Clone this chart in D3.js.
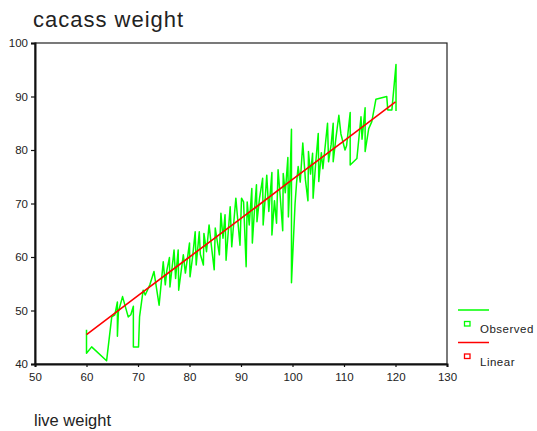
<!DOCTYPE html>
<html>
<head>
<meta charset="utf-8">
<script src="https://cdn.jsdelivr.net/npm/d3@7"></script>
<style>
  body { margin: 0; background: #fff; }
  text { font-family: Arial, "Liberation Sans", sans-serif; fill: #222; }
</style>
</head>
<body>
<svg id="chart"></svg>
<script>
// Observed values (live weight, carcass weight), in plotted order
const obsX = [60, 60, 61, 63.9, 64.9, 65.5, 66, 66, 66.2, 67, 68.1, 68.6, 69.1, 69.1, 70.1, 70.3, 71, 71.4, 72.3, 73.1, 73.3, 74.1, 74.9,
  75.3, 75.6, 76.1, 76.2, 77, 77.3, 77.8, 77.9, 78.4, 78.8, 79.2, 80, 80.1, 80.6, 81.1, 81.3, 81.9, 82.1, 82.7, 82.8, 83.3, 83.8,
  84.2, 84.8, 85, 85.8, 86.1, 86.5, 86.9, 87.1, 87.9, 88.2, 88.6, 89, 89.8, 90.1, 90.5, 91, 91.2, 91.6, 92.1, 92.2, 92.6, 93, 93.1,
  93.6, 94.2, 94.3, 94.7, 95, 95.4, 96, 96, 96.5, 96.9, 97.2, 97.6, 98.1, 98.2, 98.6, 99.1, 99.2, 99.5, 99.8, 99.8, 100.5, 100.8,
  101.1, 101.5, 102, 102.5, 103, 103.1, 103.5, 103.9, 104, 104.5, 105, 105.1, 105.6, 105.9, 106.8, 107, 107.5, 107.9, 107.9, 108.4,
  109, 109.4, 110.2, 110.5, 111.2, 111.2, 112.5, 113.3, 113.5, 114.1, 114.1, 114.8, 115.4, 116.2, 118.3, 118.5, 119.3, 120.1, 120.1];
const obsY = [46.4, 42.0, 43.2, 40.6, 48.8, 49.2, 51.6, 45.2, 49.8, 52.6, 48.8, 49.2, 50.8, 43.2, 43.2, 48.8, 53.8, 52.9, 54.8, 57.3, 56.0, 51.0, 59.1,
  54.8, 57.5, 59.9, 54.4, 61.3, 56.0, 61.3, 53.8, 57.5, 60.4, 57.0, 62.6, 56.3, 60.0, 64.7, 58.5, 64.7, 60.5, 58.5, 64.4, 61.0, 66.0,
  62.5, 57.6, 65.4, 60.4, 68.2, 63.5, 67.9, 59.4, 69.4, 61.9, 66.5, 71.0, 62.2, 71.0, 70.3, 58.2, 70.3, 66.0, 72.8, 62.6, 68.5, 73.5, 66.6,
  71.0, 74.7, 66.0, 71.0, 75.3, 68.5, 75.8, 64.1, 70.5, 66.3, 76.3, 71.5, 64.9, 75.6, 72.0, 78.6, 67.5, 74.0, 83.9, 55.2, 70.0, 74.0,
  76.9, 74.0, 81.3, 74.5, 70.5, 79.7, 75.5, 79.4, 71.0, 77.5, 83.1, 74.1, 79.5, 76.5, 85.0, 77.8, 81.0, 85.0, 77.8, 82.0,
  86.5, 83.0, 80.0, 80.8, 87.0, 77.2, 78.4, 86.2, 82.0, 87.9, 79.7, 84.0, 85.3, 89.5, 90.0, 87.5, 87.5, 96.0, 87.3];

// Linear fit values
const fitX = [60, 70, 80, 90, 100, 110, 120];
const fitY = [45.5, 52.8, 60.0, 67.2, 74.5, 81.7, 89.0];

const xTicks = [50, 60, 70, 80, 90, 100, 110, 120, 130];
const yTicks = [40, 50, 60, 70, 80, 90, 100];
const legendItems = ['Observed', 'Linear'];
const colors = ['#00ff00', '#ff0000'];

const W = 537, H = 431;
const margin = { top: 43, left: 35 };
const width = 412, height = 321;

const svg = d3.select('#chart').attr('width', W).attr('height', H);

svg.append('text')
  .attr('x', 33).attr('y', 27)
  .style('font-size', '22px')
  .style('letter-spacing', '1px')
  .text('cacass weight');

svg.append('text')
  .attr('x', 34).attr('y', 426)
  .style('font-size', '16.5px')
  .text('live weight');

const g = svg.append('g').attr('transform', `translate(${margin.left},${margin.top})`);

const x = d3.scaleLinear().domain([50, 130]).range([0, width]);
const y = d3.scaleLinear().domain([40, 100]).range([height, 0]);

// frame
g.append('rect')
  .attr('width', width).attr('height', height)
  .attr('fill', 'none').attr('stroke', '#222').attr('stroke-width', 1.2);

// axes
const xAxis = g.append('g')
  .attr('transform', `translate(0,${height})`)
  .call(d3.axisBottom(x).tickValues(xTicks).tickSize(3).tickPadding(6));
const yAxis = g.append('g')
  .call(d3.axisLeft(y).tickValues(yTicks).tickSize(4).tickPadding(3));

[xAxis, yAxis].forEach(a => {
  a.select('.domain').attr('stroke', '#111').attr('stroke-width', 2);
  a.selectAll('.tick line').attr('stroke', '#111').attr('stroke-width', 1.2);
  a.selectAll('.tick text')
    .style('font-size', '11.5px')
    .style('font-family', 'Arial, "Liberation Sans", sans-serif')
    .attr('fill', '#222');
});

const obs = obsX.map((v, i) => [v, obsY[i]]);
const fit = fitX.map((v, i) => [v, fitY[i]]);
const line = d3.line().x(d => x(d[0])).y(d => y(d[1]));

g.append('path')
  .datum(obs)
  .attr('d', line)
  .attr('fill', 'none')
  .attr('stroke', colors[0])
  .attr('stroke-width', 1.5)
  .attr('stroke-linejoin', 'round');

g.append('path')
  .datum(fit)
  .attr('d', line)
  .attr('fill', 'none')
  .attr('stroke', colors[1])
  .attr('stroke-width', 1.6);

// legend
const legend = svg.append('g');
legendItems.forEach((name, i) => {
  const top = 310 + i * 32.5;
  legend.append('line')
    .attr('x1', 458).attr('x2', 489)
    .attr('y1', top).attr('y2', top)
    .attr('stroke', colors[i]).attr('stroke-width', 1.5);
  legend.append('rect')
    .attr('x', 464.5).attr('y', top + 11.5)
    .attr('width', 5.5).attr('height', 4.5)
    .attr('fill', 'none')
    .attr('stroke', colors[i]).attr('stroke-width', 1.3);
  legend.append('text')
    .attr('x', 480).attr('y', top + 22.5 + i * 0.5)
    .style('font-size', '11.5px')
    .style('letter-spacing', '0.5px')
    .text(name);
});
</script>
</body>
</html>
